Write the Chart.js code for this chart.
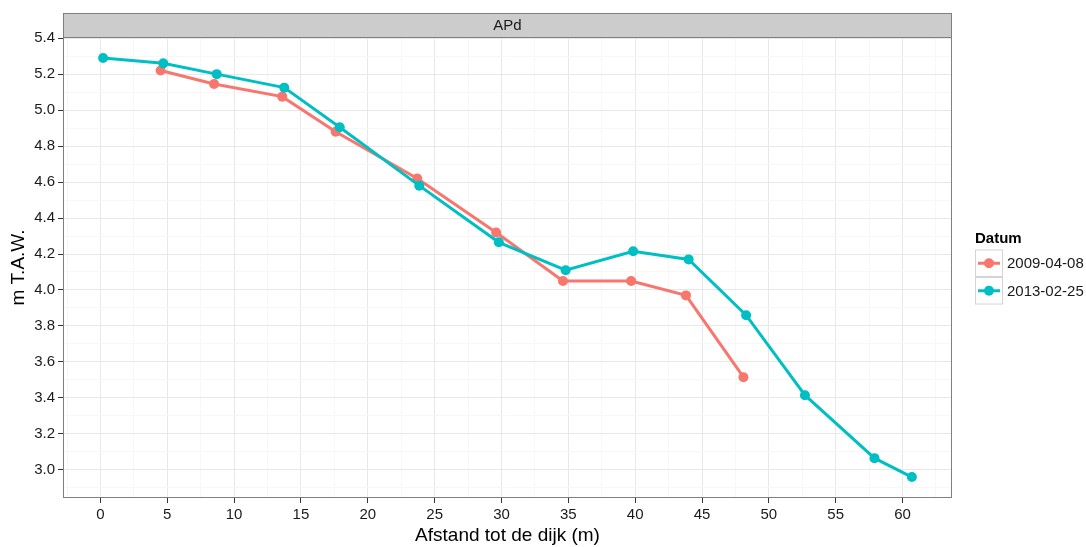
<!DOCTYPE html>
<html>
<head>
<meta charset="utf-8">
<script src="https://cdn.jsdelivr.net/npm/chart.js@4.4.1/dist/chart.umd.min.js"></script>
<style>
  html, body { margin: 0; padding: 0; background: #fff; }
  #wrap { width: 1086px; height: 547px; }
</style>
</head>
<body>
<div id="wrap"><canvas id="chart" width="1086" height="547"></canvas></div>
<script>
// 데이터: 측정일별 단면 (afstand in m, hoogte in m T.A.W.)
const panelTitle = "APd";
const legendTitle = "Datum";

const datum2009 = "2009-04-08";
const afstand2009 = [4.5, 8.5, 13.6, 17.6, 23.7, 29.6, 34.6, 39.7, 43.8, 48.1];
const hoogte2009 = [5.22, 5.145, 5.075, 4.88, 4.62, 4.32, 4.05, 4.05, 3.97, 3.515];

const datum2013 = "2013-02-25";
const afstand2013 = [0.2, 4.7, 8.7, 13.75, 17.9, 23.85, 29.8, 34.8, 39.85, 44.0, 48.3, 52.7, 57.9, 60.7];
const hoogte2013 = [5.29, 5.26, 5.2, 5.125, 4.905, 4.58, 4.265, 4.11, 4.215, 4.17, 3.86, 3.415, 3.065, 2.96];

const xTicks = [0, 5, 10, 15, 20, 25, 30, 35, 40, 45, 50, 55, 60];
const yTicks = [3.0, 3.2, 3.4, 3.6, 3.8, 4.0, 4.2, 4.4, 4.6, 4.8, 5.0, 5.2, 5.4];

const kleur2009 = "#F8766D";
const kleur2013 = "#00BFC4";
const FONT = "'Liberation Sans', Arial, sans-serif";

// major + minor ticks (minor = midpoints, ggplot style)
function withMinor(major, min, max) {
  const step = major[1] - major[0];
  const out = [];
  const first = major[0] - step / 2;
  if (first >= min) out.push({ value: first, minor: true });
  major.forEach((v) => {
    out.push({ value: v, minor: false });
    const m = v + step / 2;
    if (m <= max) out.push({ value: m, minor: true });
  });
  return out;
}

const toPoints = (xs, ys) => xs.map((x, i) => ({ x, y: ys[i] }));

const X_MIN = -2.8, X_MAX = 63.7;
const Y_MIN = 2.8435, Y_MAX = 5.4065;

const panelPlugin = {
  id: "panel",
  beforeDraw(chart) {
    const { ctx, width, height } = chart;
    ctx.save();
    ctx.fillStyle = "#fff";
    ctx.fillRect(0, 0, width, height);
    ctx.restore();
  },
  afterDraw(chart) {
    const { ctx, chartArea: a } = chart;
    ctx.save();
    // panel rand
    ctx.strokeStyle = "#7f7f7f";
    ctx.lineWidth = 1;
    ctx.strokeRect(a.left + 0.5, a.top + 0.5, a.right - a.left - 1, a.bottom - a.top - 1);

    // facet strip
    const sh = 24;
    ctx.fillStyle = "#cccccc";
    ctx.fillRect(a.left, a.top - sh, a.right - a.left, sh);
    ctx.strokeRect(a.left + 0.5, a.top - sh + 0.5, a.right - a.left - 1, sh);
    ctx.fillStyle = "#1a1a1a";
    ctx.font = "15px " + FONT;
    ctx.textAlign = "center";
    ctx.textBaseline = "middle";
    ctx.fillText(panelTitle, (a.left + a.right) / 2, a.top - sh / 2 + 1);

    // legende
    const lx = a.right + 23;
    const mid = (a.top + a.bottom) / 2;
    ctx.textAlign = "left";
    ctx.font = "bold 15px " + FONT;
    ctx.fillStyle = "#000";
    ctx.fillText(legendTitle, lx, mid - 29);
    const kh = 27.5, kw = 28;
    let ky = mid - 18;
    chart.data.datasets.forEach((ds) => {
      ctx.fillStyle = "#fff";
      ctx.fillRect(lx, ky, kw, kh);
      ctx.strokeStyle = "#d4d4d4";
      ctx.lineWidth = 1;
      ctx.strokeRect(lx + 0.5, ky + 0.5, kw - 1, kh - 1);
      const cy = ky + kh / 2;
      ctx.strokeStyle = ds.borderColor;
      ctx.lineWidth = 3;
      ctx.beginPath();
      ctx.moveTo(lx + 3, cy);
      ctx.lineTo(lx + kw - 3, cy);
      ctx.stroke();
      ctx.fillStyle = ds.borderColor;
      ctx.beginPath();
      ctx.arc(lx + kw / 2, cy, 5, 0, Math.PI * 2);
      ctx.fill();
      ctx.fillStyle = "#1a1a1a";
      ctx.font = "15px " + FONT;
      ctx.fillText(ds.label, lx + kw + 4, cy + 1);
      ky += kh;
    });
    ctx.restore();
  },
};

const isMajor = (ticks, v) => ticks.some((t) => Math.abs(t - v) < 1e-6);

new Chart(document.getElementById("chart"), {
  type: "line",
  data: {
    datasets: [
      {
        label: datum2009,
        data: toPoints(afstand2009, hoogte2009),
        borderColor: kleur2009,
        backgroundColor: kleur2009,
        pointBackgroundColor: kleur2009,
        borderWidth: 3,
        pointRadius: 5,
        pointBorderWidth: 0,
        tension: 0,
        order: 1,
      },
      {
        label: datum2013,
        data: toPoints(afstand2013, hoogte2013),
        borderColor: kleur2013,
        backgroundColor: kleur2013,
        pointBackgroundColor: kleur2013,
        borderWidth: 3,
        pointRadius: 5,
        pointBorderWidth: 0,
        tension: 0,
        order: 0,
      },
    ],
  },
  options: {
    responsive: false,
    animation: false,
    layout: { padding: { top: 37, right: 134, left: 0, bottom: 0 } },
    plugins: {
      legend: { display: false },
      tooltip: { enabled: false },
    },
    scales: {
      x: {
        type: "linear",
        min: X_MIN,
        max: X_MAX,
        afterBuildTicks: (s) => { s.ticks = withMinor(xTicks, X_MIN, X_MAX); },
        afterFit: (s) => { s.height = 49; },
        border: { display: false },
        grid: {
          color: (c) => (c.tick && c.tick.minor ? "#f7f7f7" : "#e8e8e8"),
          tickColor: (c) => (c.tick && c.tick.minor ? "rgba(0,0,0,0)" : "#333"),
          tickLength: 5,
          lineWidth: 1,
        },
        ticks: {
          autoSkip: false,
          maxRotation: 0,
          padding: 3,
          color: "#1a1a1a",
          font: { family: FONT, size: 15 },
          callback: (v) => (isMajor(xTicks, v) ? String(v) : ""),
        },
        title: {
          display: true,
          text: "Afstand tot de dijk (m)",
          color: "#000",
          font: { family: FONT, size: 19, lineHeight: 1.2 },
          padding: { top: 0, bottom: 0 },
        },
      },
      y: {
        type: "linear",
        min: Y_MIN,
        max: Y_MAX,
        afterBuildTicks: (s) => { s.ticks = withMinor(yTicks, Y_MIN, Y_MAX); },
        afterFit: (s) => { s.width = 63; },
        border: { display: false },
        grid: {
          color: (c) => (c.tick && c.tick.minor ? "#f7f7f7" : "#e8e8e8"),
          tickColor: (c) => (c.tick && c.tick.minor ? "rgba(0,0,0,0)" : "#333"),
          tickLength: 5,
          lineWidth: 1,
        },
        ticks: {
          autoSkip: false,
          padding: 3,
          color: "#1a1a1a",
          font: { family: FONT, size: 15 },
          callback: (v) => (isMajor(yTicks, v) ? v.toFixed(1) : ""),
        },
        title: {
          display: true,
          text: "m T.A.W.",
          color: "#000",
          font: { family: FONT, size: 19, lineHeight: 1.2 },
          padding: { top: 7, bottom: 0 },
        },
      },
    },
  },
  plugins: [panelPlugin],
});
</script>
</body>
</html>
